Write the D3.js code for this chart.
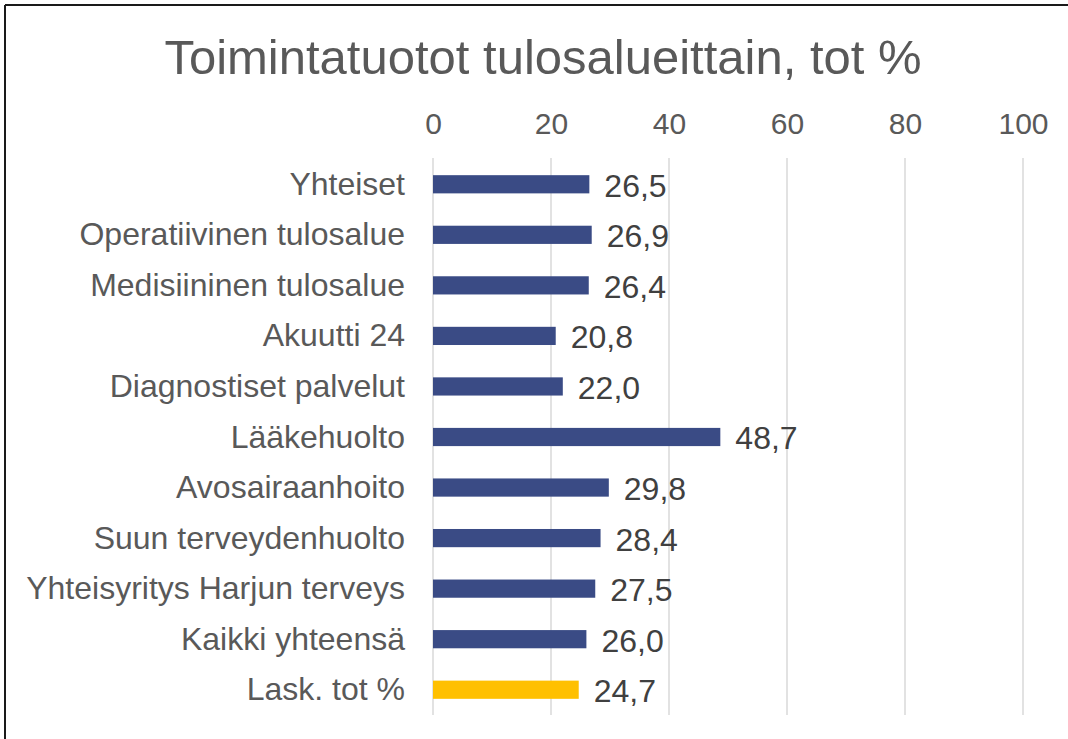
<!DOCTYPE html>
<html>
<head>
<meta charset="utf-8">
<script src="https://cdn.jsdelivr.net/npm/d3@7"></script>
<style>
  body { margin: 0; background: #fff; }
  svg { font-family: "Liberation Sans", Arial, sans-serif; }
</style>
</head>
<body>
<div id="chart"></div>
<script>
// Data
const categories = [
  "Yhteiset",
  "Operatiivinen tulosalue",
  "Medisiininen tulosalue",
  "Akuutti 24",
  "Diagnostiset palvelut",
  "Lääkehuolto",
  "Avosairaanhoito",
  "Suun terveydenhuolto",
  "Yhteisyritys Harjun terveys",
  "Kaikki yhteensä",
  "Lask. tot %"
];
const values = [26.5, 26.9, 26.4, 20.8, 22.0, 48.7, 29.8, 28.4, 27.5, 26.0, 24.7];
const highlight = ["Lask. tot %"];
const xTicks = [0, 20, 40, 60, 80, 100];
const title = "Toimintatuotot tulosalueittain, tot %";

const width = 1068, height = 739;
const margin = { top: 159, left: 433, right: 45, bottom: 24 };

const svg = d3.select("#chart")
  .append("svg")
  .attr("width", width)
  .attr("height", height);

// partial frame (top and left edge of the cropped chart area)
svg.append("line")
  .attr("x1", 5).attr("x2", width).attr("y1", 5).attr("y2", 5)
  .attr("stroke", "#1a1a1a").attr("stroke-width", 2);
svg.append("line")
  .attr("x1", 5).attr("x2", 5).attr("y1", 5).attr("y2", height)
  .attr("stroke", "#1a1a1a").attr("stroke-width", 2);

const x = d3.scaleLinear()
  .domain([0, 100])
  .range([margin.left, width - margin.right]);

const y = d3.scaleBand()
  .domain(categories)
  .range([margin.top, height - margin.bottom])
  .paddingInner(0.64)
  .paddingOuter(0.32);

// title
svg.append("text")
  .attr("x", 543)
  .attr("y", 74)
  .attr("text-anchor", "middle")
  .style("font-size", "49px")
  .attr("fill", "#595959")
  .text(title);

// gridlines
svg.append("g")
  .selectAll("line")
  .data(xTicks)
  .join("line")
  .attr("x1", d => x(d)).attr("x2", d => x(d))
  .attr("y1", margin.top - 1).attr("y2", height - margin.bottom)
  .attr("stroke", "#d9d9d9")
  .attr("stroke-width", 1.5);

// top axis labels
const axis = svg.append("g")
  .attr("transform", `translate(0,${margin.top - 25})`)
  .call(d3.axisTop(x).tickValues(xTicks).tickSize(0).tickPadding(0));
axis.select(".domain").remove();
axis.selectAll("text")
  .style("font-size", "30px")
  .style("font-family", "Liberation Sans, Arial, sans-serif")
  .attr("fill", "#595959")
  .attr("dy", 0);

// category labels
svg.append("g")
  .selectAll("text")
  .data(categories)
  .join("text")
  .attr("x", margin.left - 28)
  .attr("y", d => y(d) + y.bandwidth() / 2)
  .attr("dy", "0.33em")
  .attr("text-anchor", "end")
  .style("font-size", "32px")
  .attr("fill", "#595959")
  .text(d => d);

// bars
svg.append("g")
  .selectAll("rect")
  .data(categories)
  .join("rect")
  .attr("x", x(0))
  .attr("y", d => y(d))
  .attr("width", (d, i) => x(values[i]) - x(0))
  .attr("height", y.bandwidth())
  .attr("fill", d => highlight.includes(d) ? "#FFC000" : "#3A4B85");

// value labels
const fmt = v => d3.format(".1f")(v).replace(".", ",");
svg.append("g")
  .selectAll("text")
  .data(categories)
  .join("text")
  .attr("x", (d, i) => x(values[i]) + 15)
  .attr("y", d => y(d) + y.bandwidth() / 2)
  .attr("dy", "0.39em")
  .style("font-size", "32px")
  .attr("fill", "#404040")
  .text((d, i) => fmt(values[i]));
</script>
</body>
</html>
